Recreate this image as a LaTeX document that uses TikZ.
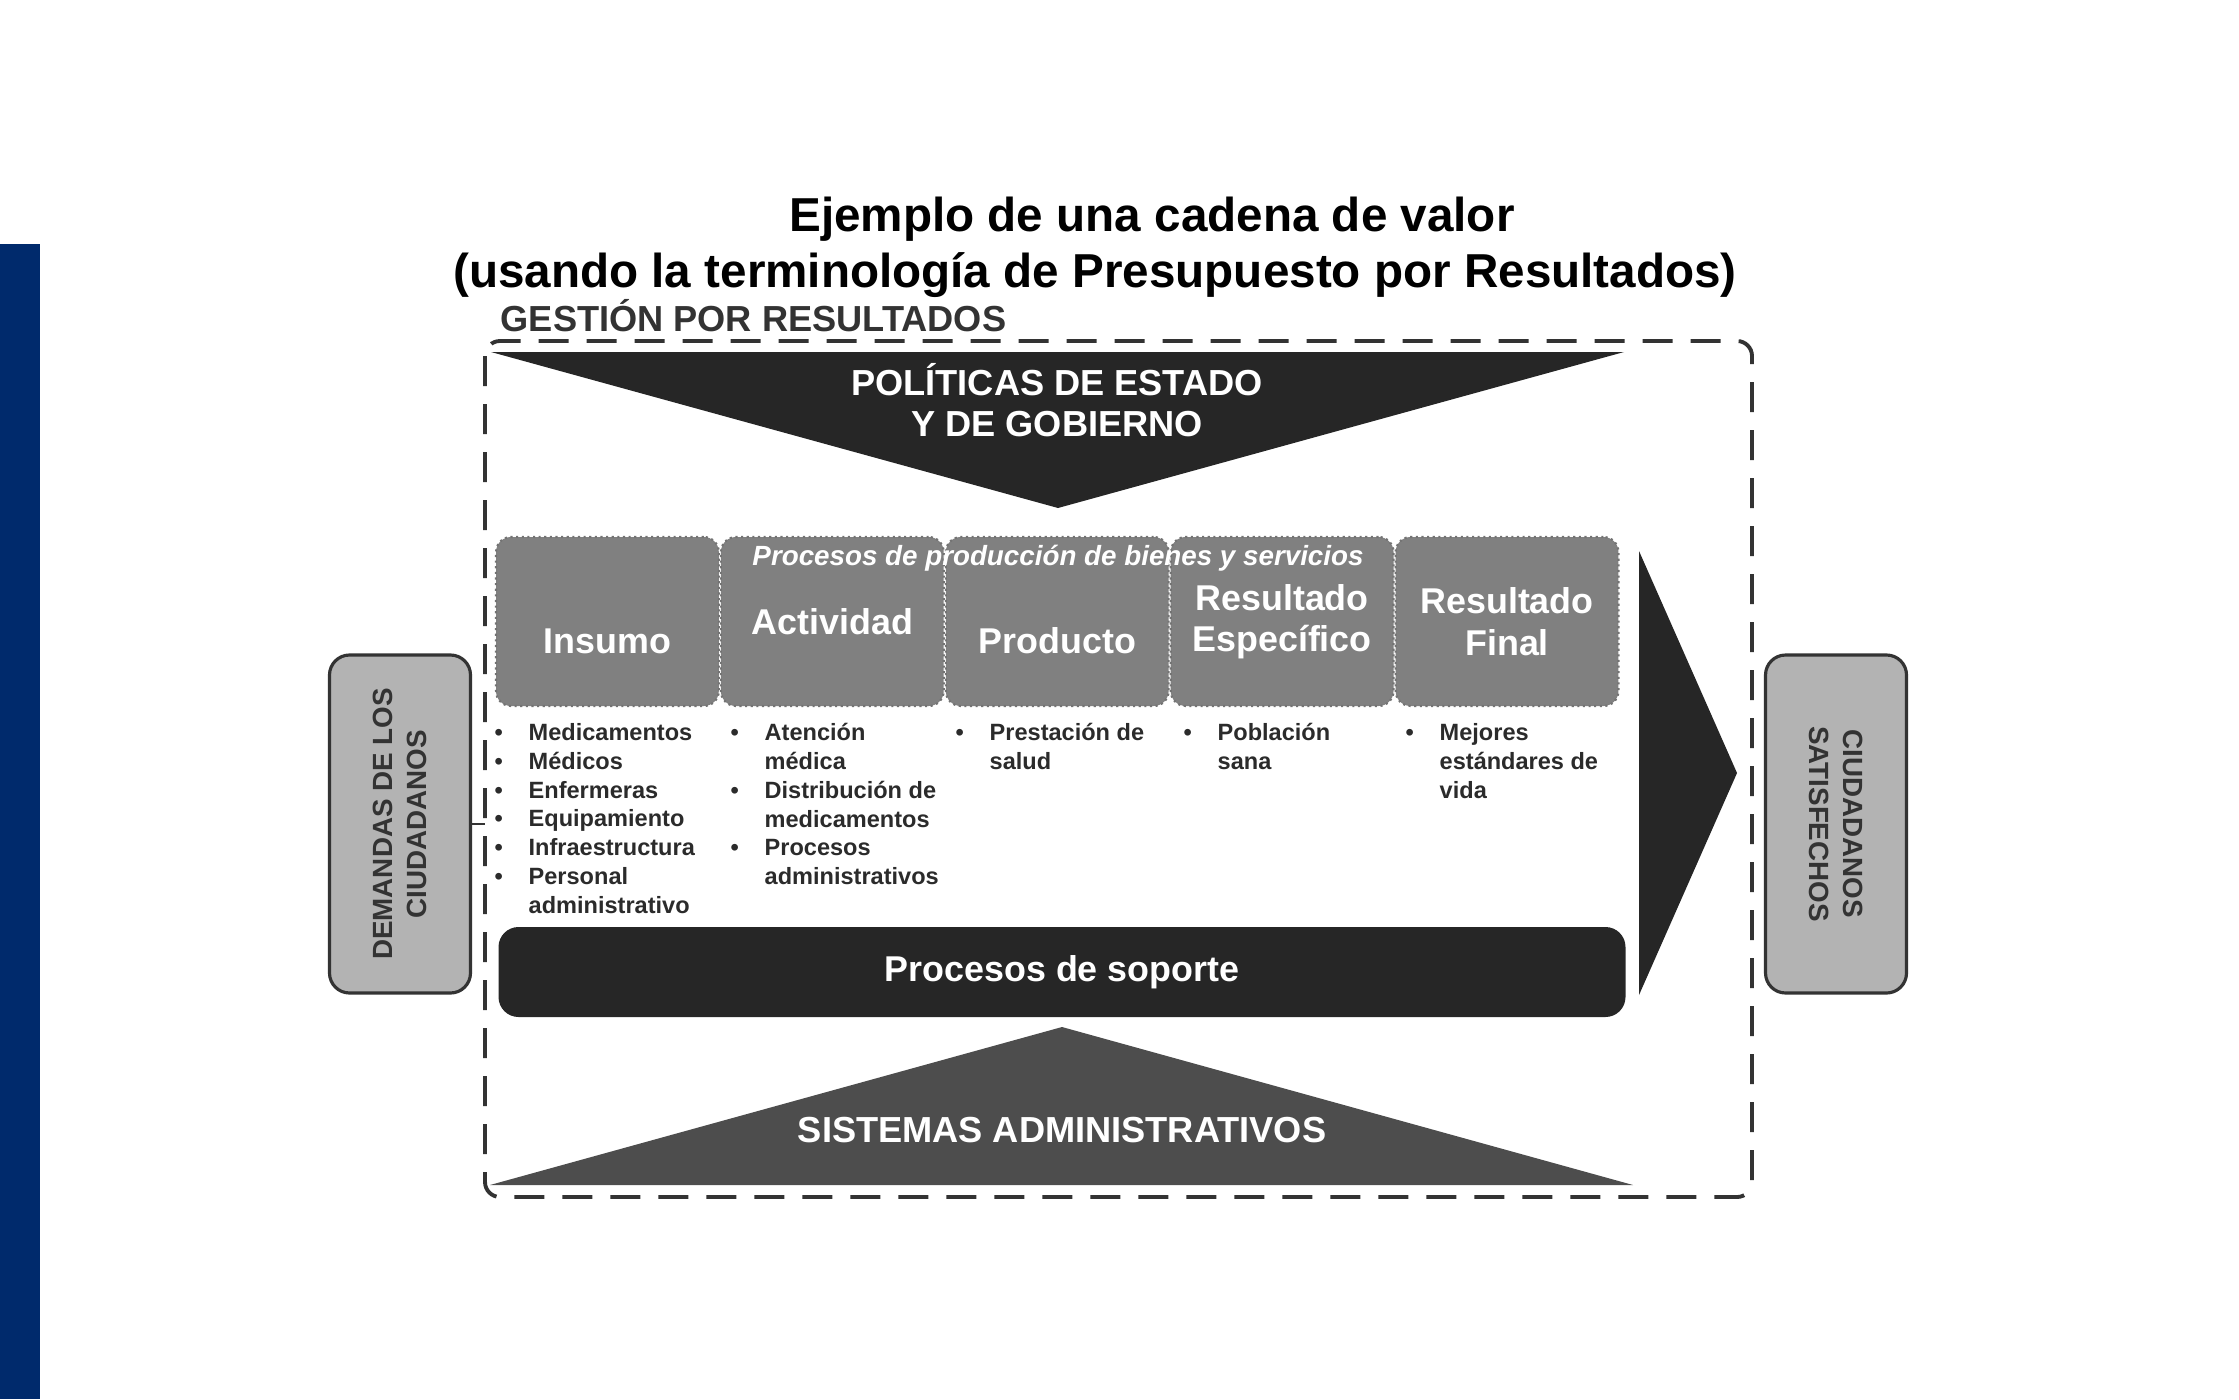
\documentclass[tikz,border=0pt]{standalone}
\usepackage{fontspec}
\setmainfont{Liberation Sans}
\usetikzlibrary{positioning}

\definecolor{bandblue}{RGB}{0,42,108}
\definecolor{inkdark}{HTML}{262626}
\definecolor{stagegray}{HTML}{808080}
\definecolor{sysgray}{HTML}{4D4D4D}
\definecolor{sidegray}{HTML}{B3B3B3}
\definecolor{txtgray}{HTML}{2B2B2B}

\newcommand{\fs}[2]{\fontsize{#1}{#2}\selectfont}
\newcommand{\itm}{\makebox[3.4mm][l]{\textbullet}}
\newcommand{\ind}{\hspace*{3.4mm}}

\begin{document}
\begin{tikzpicture}[x=0.1mm,y=-0.1mm,
  stage/.style={draw=black!55,densely dotted,line width=0.6pt,fill=stagegray,rounded corners=1.5mm,minimum width=22.28mm,minimum height=16.9mm,inner sep=0pt},
  stagetxt/.style={text=white,font=\fs{10.2}{11.8}\bfseries,align=center,inner sep=0pt},
  items/.style={anchor=north west,inner sep=0pt,align=left,text=txtgray,font=\fs{6.7}{8.17}\bfseries},
  side/.style={draw=black!80,line width=0.9pt,fill=sidegray,rounded corners=2mm,minimum width=33.8mm,minimum height=14.1mm,align=center,text=black!80,font=\fs{7.9}{9.7}\bfseries},
  frame/.style={draw=black!80,dash pattern=on 3mm off 1.8mm,line width=1.1pt,rounded corners=1.5mm},
  whitetxt/.style={text=white,font=\fs{10.3}{11.7}\bfseries,align=center,inner sep=0pt}]
\useasboundingbox (0,0) rectangle (2239,1399);
\fill[bandblue] (0,244) rectangle (40,1399);

% titulo
\node[anchor=base,inner sep=0pt,font=\fs{13.55}{16}\bfseries] (tit1) at (1152,231) {Ejemplo de una cadena de valor};
\node[anchor=base,inner sep=0pt,font=\fs{13.55}{16}\bfseries] (tit2) at (1095,287) {(usando la terminología de Presupuesto por Resultados)};
\node[anchor=base west,inner sep=0pt,text=black!80,font=\fs{10.3}{12}\bfseries] (gpr) at (500,331) {GESTIÓN POR RESULTADOS};

% marco punteado
\draw[frame] (485,341) rectangle (1752,1197);

% politicas
\fill[inkdark] (491,352) -- (1624,352) -- (1058,508) -- cycle;
\node[whitetxt] (pol) at (1057,400) {POLÍTICAS DE ESTADO\\Y DE GOBIERNO};

% cadena
\node[stage] (ins) at (607.4,621.5) {};
\node[stage,right=0mm of ins] (act) {};
\node[stage,right=0mm of act] (pro) {};
\node[stage,right=0mm of pro] (res) {};
\node[stage,right=0mm of res] (fin) {};
\node[text=white,inner sep=0pt,font=\fs{7.9}{9}\bfseries\itshape] (prodbs) at (1058,558) {Procesos de producción de bienes y servicios};
\node[stagetxt] (insL) at ([yshift=-2mm]ins.center) {Insumo};
\node[stagetxt] (actL) at (act.center) {Actividad};
\node[stagetxt] (proL) at ([yshift=-1.9mm]pro.center) {Producto};
\node[stagetxt] (resL) at ([yshift=0mm]res.center) {Resultado\\Específico};
\node[stagetxt] (finL) at ([yshift=0mm]fin.center) {Resultado\\Final};

% listas
\node[items] (insT) at (494,723) {\itm Medicamentos\\\itm Médicos\\\itm Enfermeras\\\itm Equipamiento\\\itm Infraestructura\\\itm Personal\\\ind administrativo};
\node[items] (actT) at (730,723) {\itm Atención\\\ind médica\\\itm Distribución de\\\ind medicamentos\\\itm Procesos\\\ind administrativos};
\node[items] (proT) at (955,723) {\itm Prestación de\\\ind salud};
\node[items] (resT) at (1183,723) {\itm Población\\\ind sana};
\node[items] (finT) at (1405,723) {\itm Mejores\\\ind estándares de\\\ind vida};

% soporte y sistemas
\node[fill=inkdark,rounded corners=2mm,minimum width=112.7mm,minimum height=9mm,whitetxt,font=\fs{10.2}{12}\bfseries] (sop) at (1062,972) {Procesos de soporte};
\fill[sysgray] (490,1185) -- (1062,1027) -- (1633,1185) -- cycle;
\node[whitetxt] (sis) at (1062,1130) {SISTEMAS ADMINISTRATIVOS};

% flecha
\fill[inkdark] (1639,551) -- (1737,773) -- (1639,995) -- cycle;

% extremos
\node[side,rotate=90] (dem) at (400,824) {DEMANDAS DE LOS\\CIUDADANOS};
\node[side,rotate=-90] (sat) at (1836,824) {CIUDADANOS\\SATISFECHOS};
\coordinate (gate) at (485,824);
\draw[line width=0.6pt,black!80] (dem.south) -- (gate);
\end{tikzpicture}
\end{document}
